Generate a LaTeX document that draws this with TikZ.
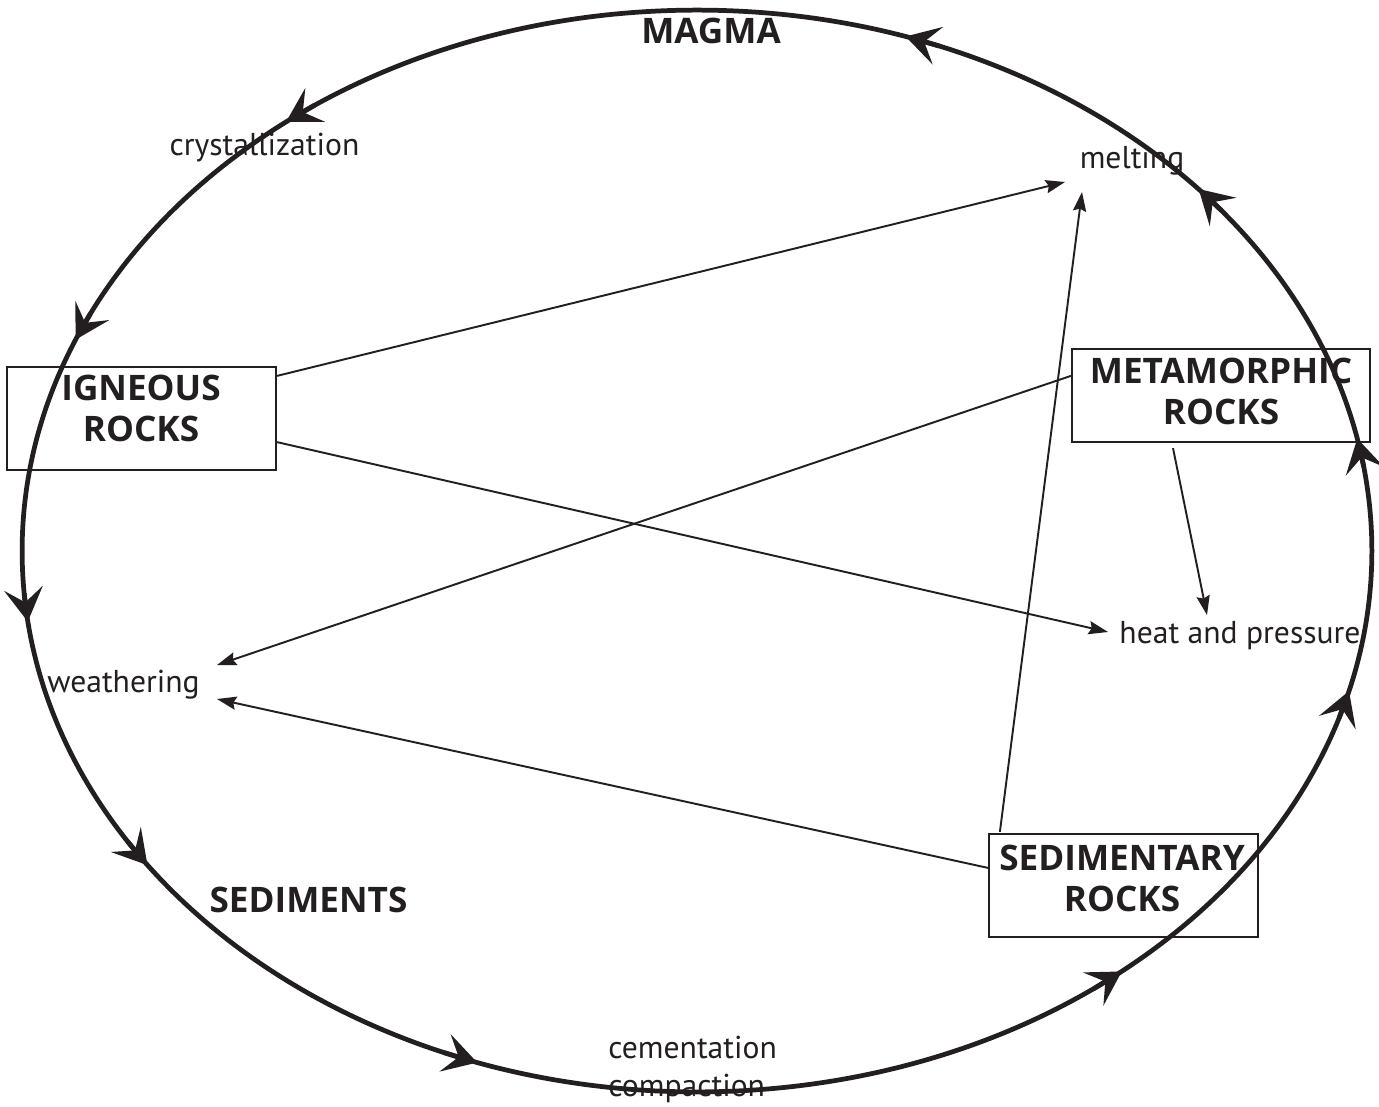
\documentclass[tikz,border=0pt]{standalone}
\usepackage{fontspec}
\setmainfont{PT Sans}
\newfontfamily\hvy{Open Sans}
\usetikzlibrary{arrows.meta,calc}
\definecolor{ink}{RGB}{35,31,32}
\begin{document}
\begin{tikzpicture}[x=0.02cm,y=-0.02cm,
  ring/.style={line width=2.7pt, draw=ink},
  ringtip/.style={line width=2.7pt, draw=ink, fill=ink, -{Stealth[length=19pt,width=22pt,inset=8pt]}},
  box/.style={draw=ink, line width=1.3pt, inner sep=0pt, fill=none},
  bigtxt/.style={text=ink, font=\hvy\bfseries\fontsize{20}{23.2}\selectfont, inner sep=0pt, align=center},
  lbl/.style={text=ink, font=\fontsize{18}{22}\selectfont, inner sep=0pt},
  conn/.style={line width=1.1pt, draw=ink, -{Stealth[length=11pt,width=7.5pt,inset=1.5pt]}}]
\useasboundingbox (0,0) rectangle (1379,1106);
\fill[white] (0,0) rectangle (1379,1106);

% cycle ellipse
\draw[ring] (697,551) ellipse [x radius=13.5cm, y radius=10.82cm];
\foreach \t in {72,127.5,157,187.5,215.5,251,309,345,12,42}{
  \draw[ringtip] ({697+675*cos(\t-3)},{551-541*sin(\t-3)}) -- ({697+675*cos(\t)},{551-541*sin(\t)});
}

% boxes
\node[box, minimum width=5.38cm, minimum height=2.06cm] (ign) at (141.5,418.5) {};
\node[box, minimum width=5.96cm, minimum height=1.86cm] (met) at (1221,395.5) {};
\node[box, minimum width=5.38cm, minimum height=2.06cm] (sed) at (1123.5,885.5) {};

\node[bigtxt, anchor=north] (ignt) at (141,375) {IGNEOUS\\ROCKS};
\node[bigtxt, anchor=north] (mett) at (1221,358) {METAMORPHIC\\ROCKS};
\node[bigtxt, anchor=north] (sedt) at (1122,845) {SEDIMENTARY\\ROCKS};

\node[bigtxt, anchor=base] (magma) at (711,43) {MAGMA};
\node[bigtxt, anchor=base] (sedi) at (308.5,912) {SEDIMENTS};

% process labels
\node[lbl, anchor=base] (cry) at (264.5,155) {crystallization};
\node[lbl, anchor=base] (melt) at (1132,168) {melting};
\node[lbl, anchor=base] (heat) at (1240,643) {heat and pressure};
\node[lbl, anchor=base] (weat) at (123.5,692) {weathering};
\node[lbl, anchor=base west] (cem) at (608,1058) {cementation};
\node[lbl, anchor=base west] (comp) at (608,1096) {compaction};

% connectors
\draw[conn] ($(ign.north east)+(0,10)$) -- ($(melt.base)+(-67,14)$);
\draw[conn] ($(ign.south east)+(0,-29)$) -- ($(heat.base)+(-132,-11)$);
\draw[conn] ($(met.north west)+(0,28)$) -- ($(weat.base)+(93.5,-27)$);
\draw[conn] ($(met.south)+(-48,5)$) -- ($(heat.base)+(-33,-28)$);
\draw[conn] ($(sed.north west)+(0,35)$) -- ($(weat.base)+(93.5,7)$);
\draw[conn] ($(sed.north west)+(12,-1)$) -- ($(melt.base)+(-50,24)$);
\end{tikzpicture}
\end{document}
